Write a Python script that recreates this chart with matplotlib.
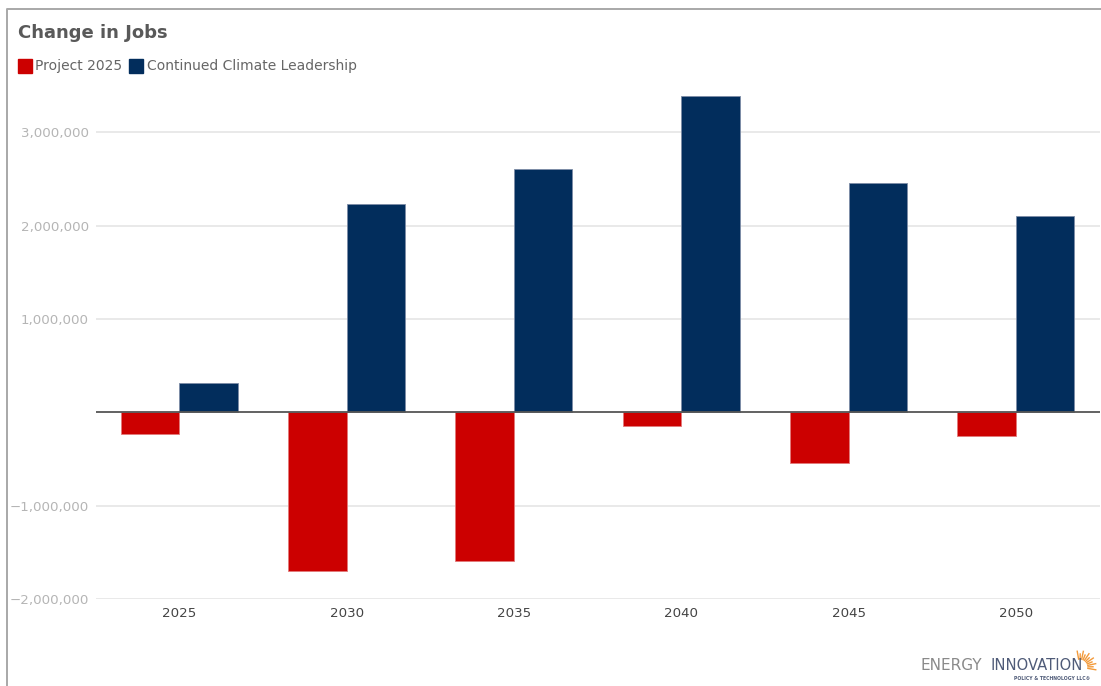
import numpy as np
import matplotlib.pyplot as plt
from matplotlib.patches import Rectangle
from matplotlib.lines import Line2D
from matplotlib.ticker import FixedLocator, FuncFormatter

# 資料
years = ["2025", "2030", "2035", "2040", "2045", "2050"]
series_names = ["Project 2025", "Continued Climate Leadership"]
project_2025 = [-230000, -1700000, -1595000, -150000, -545000, -255000]
climate_leadership = [310000, 2235000, 2610000, 3395000, 2455000, 2100000]
y_ticks = [-2000000, -1000000, 1000000, 2000000, 3000000]

RED = "#cc0000"
NAVY = "#022d5c"
W, H = 1101, 686


def px(x, y):
    # 像素座標轉 figure 座標
    return x / W, 1 - y / H


fig = plt.figure(figsize=(W / 100, H / 100), dpi=100, facecolor="white")
plt.rcParams["font.family"] = ["DejaVu Sans"]

# 外框 (左側與上方)
fig.add_artist(Line2D([7 / W, 7 / W, 1], [0, 1 - 8.5 / H, 1 - 8.5 / H],
                      transform=fig.transFigure, color="#a8a8a8", lw=1.4))

ax = fig.add_axes([95.6 / W, 87 / H, 1004 / W, 513.2 / H])
x = np.arange(len(years))
bw = 0.35
ax.bar(x - bw / 2, project_2025, bw, color=RED, edgecolor="#e27a7a",
       linewidth=0.6, zorder=3)
ax.bar(x + bw / 2, climate_leadership, bw, color=NAVY, edgecolor="#7d8ca6",
       linewidth=0.6, zorder=3)

ax.set_xlim(-0.5, len(years) - 0.5)
ax.set_ylim(-2000000, 3500000)
ax.axhline(0, color="#555555", lw=1.3, zorder=4)

ax.yaxis.set_major_locator(FixedLocator(y_ticks))
ax.yaxis.set_major_formatter(FuncFormatter(
    lambda v, _: f"{v:,.0f}".replace("-", "\u2212")))
ax.grid(axis="y", color="#e3e3e3", lw=1.1, zorder=0)
ax.set_xticks(x)
ax.set_xticklabels(years)
ax.tick_params(axis="y", length=0, pad=4.8, labelsize=9.6, labelcolor="#b5b5b5")
ax.tick_params(axis="x", length=0, pad=5.5, labelsize=9.6, labelcolor="#444444")
for s in ax.spines.values():
    s.set_visible(False)

# 標題與圖例
fig.text(*px(18, 33), "Change in Jobs", fontsize=13, fontweight="bold",
         color="#595959", va="center", ha="left")
legend_items = [(18, 35, series_names[0], RED), (129, 147, series_names[1], NAVY)]
for sx, tx, name, col in legend_items:
    fig.add_artist(Rectangle(px(sx, 72.5), 13.5 / W, 13.5 / H,
                             transform=fig.transFigure, color=col))
    fig.text(*px(tx, 66), name, fontsize=10, color="#666666",
             va="center", ha="left")

# 標誌
fig.text(*px(920, 670), "ENERGY", fontsize=11, color="#8a8a8a",
         va="baseline", ha="left")
fig.text(*px(990, 670), "INNOVATION", fontsize=10.6, color="#4f5b78",
         va="baseline", ha="left")
fig.text(*px(1090, 678), "POLICY & TECHNOLOGY LLC\u00ae", fontsize=3.3,
         color="#4f5b78", fontweight="bold", va="center", ha="right")
cx, cy = 1080, 667
for i, a in enumerate(np.linspace(-10, 100, 11)):
    r0 = 8
    r1 = 16 if i % 2 == 0 else 13
    t = np.deg2rad(a)
    fig.add_artist(Line2D(
        [(cx + r0 * np.cos(t)) / W, (cx + r1 * np.cos(t)) / W],
        [1 - (cy - r0 * np.sin(t)) / H, 1 - (cy - r1 * np.sin(t)) / H],
        transform=fig.transFigure, color="#f39a3a", lw=1.0))

plt.savefig("out.png", dpi=100, facecolor="white")
